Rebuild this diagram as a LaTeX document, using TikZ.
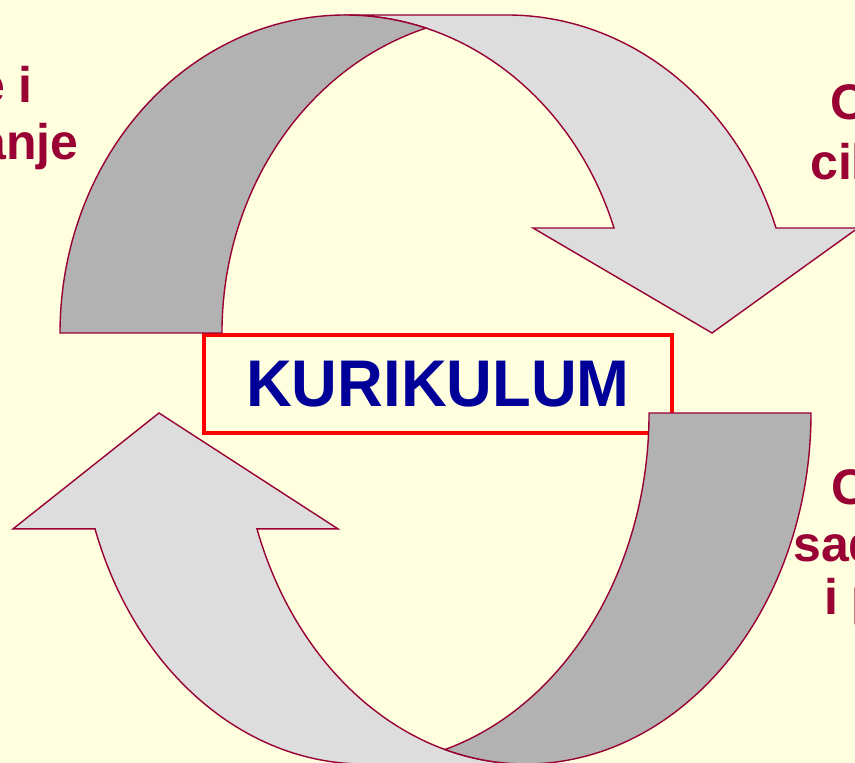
\documentclass[tikz,border=0pt]{standalone}
\usepackage{fontspec}
\setmainfont{Liberation Sans}
\usepackage{graphicx}
\definecolor{bgyellow}{RGB}{255,255,224}
\definecolor{outline}{RGB}{153,0,51}
\definecolor{darkband}{RGB}{178,178,178}
\definecolor{lightband}{RGB}{221,221,221}
\definecolor{titleblue}{RGB}{0,0,153}
\definecolor{labelred}{RGB}{153,0,51}
\begin{document}
\begin{tikzpicture}[x=1pt,y=1pt,
  darkpart/.style={fill=darkband, draw=outline, line width=1.4pt, line join=miter},
  lightpart/.style={fill=lightband, draw=outline, line width=1.4pt, line join=miter},
  lab/.style={text=labelred, font=\fontsize{50}{57}\selectfont\bfseries, inner sep=0pt},
  titlebox/.style={draw=red, line width=3.3pt, inner sep=0pt, minimum width=468pt, minimum height=98pt,
    text=titleblue, font=\fontsize{66}{70}\selectfont\bfseries}]
\fill[bgyellow] (0,0) rectangle (855,763);
\useasboundingbox (0,0) rectangle (855,763);

% central box
\node[titlebox] (box) at (438,379) {\scalebox{0.96}[1]{KURIKULUM}};

% upper arrow
\filldraw[lightpart] (345,748) -- (507,748)
  arc[start angle=90, end angle=19.28, x radius=285pt, y radius=318pt]
  -- (858,535) -- (712,430) -- (533,535) -- ++(81,0)
  arc[start angle=19.28, end angle=90, x radius=285pt, y radius=318pt] -- cycle;
\filldraw[darkpart] (60,430)
  arc[start angle=180, end angle=73.49, x radius=285pt, y radius=318pt]
  arc[start angle=106.51, end angle=180, x radius=285pt, y radius=318pt] -- cycle;

% lower arrow
\filldraw[lightpart] (526,-1) -- (364,-1)
  arc[start angle=-90, end angle=-160.72, x radius=285pt, y radius=351pt]
  -- (13,234.1) -- (159,350) -- (338,234.1) -- ++(-81,0)
  arc[start angle=-160.72, end angle=-90, x radius=285pt, y radius=351pt] -- cycle;
\filldraw[darkpart] (811,350)
  arc[start angle=0, end angle=-106.51, x radius=285pt, y radius=351pt]
  arc[start angle=-73.49, end angle=0, x radius=285pt, y radius=351pt] -- cycle;

% side labels (cut by the picture edge, as in the reference)
\node[lab, anchor=base east] (l1) at (33,660) {e i};
\node[lab, anchor=base east] (l2) at (78.5,603) {anje};
\node[lab, anchor=base west] (r1) at (830,643) {O};
\node[lab, anchor=base west] (r2) at (810,583) {cil};
\node[lab, anchor=base west] (r3) at (831,258) {O};
\node[lab, anchor=base west] (r4) at (793,201) {sad};
\node[lab, anchor=base west] (r5) at (824,148) {i p};
\end{tikzpicture}
\end{document}
